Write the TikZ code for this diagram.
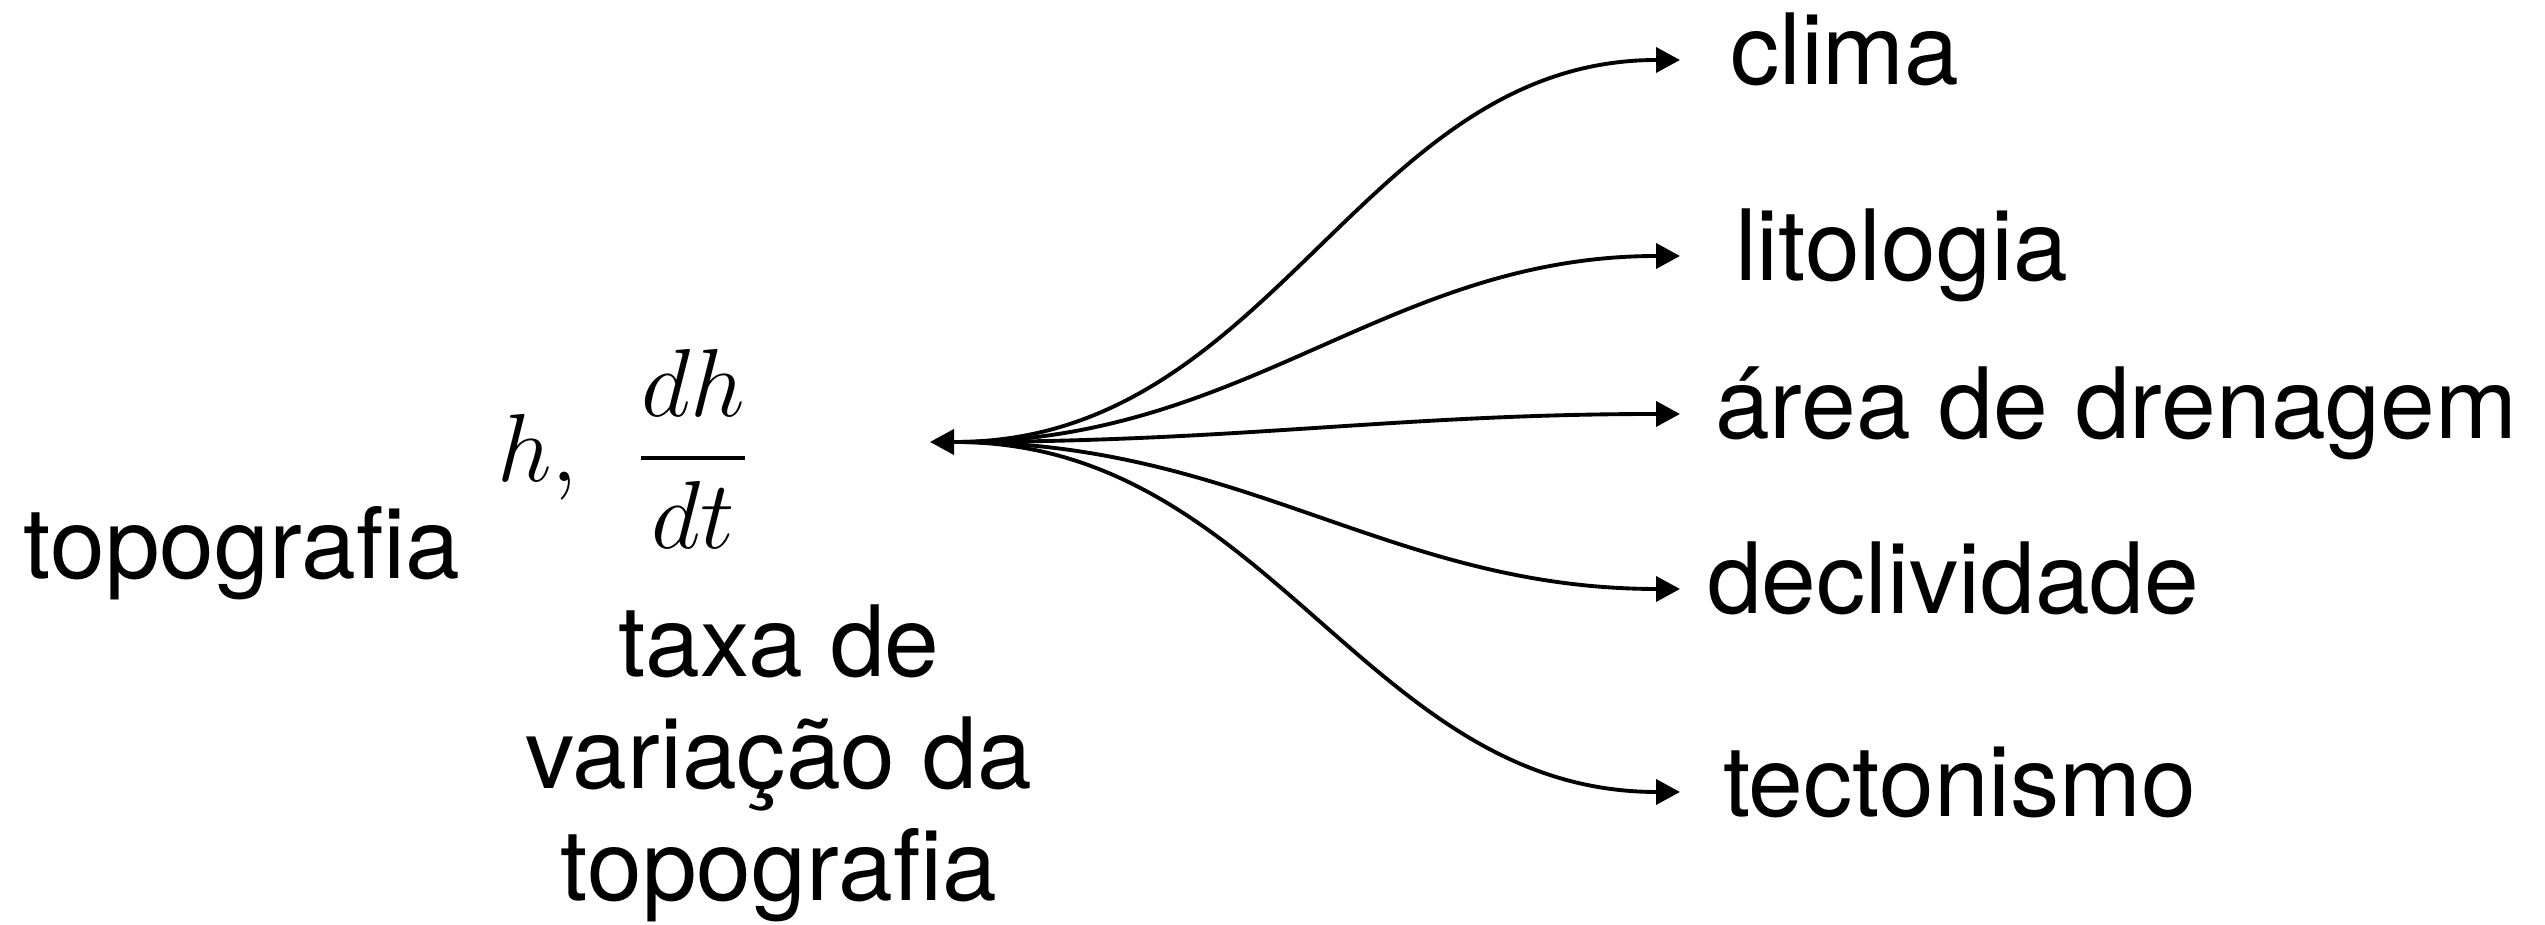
\RequirePackage{fix-cm}
\documentclass[tikz,border=0pt]{standalone}
\usepackage{amsmath}
\usepackage{fontspec}
\setmainfont{TeX Gyre Heros}
\usetikzlibrary{arrows.meta}

\begin{document}
\begin{tikzpicture}[
  every node/.style={font=\fontsize{28}{32}\selectfont, inner sep=0pt, outer sep=0pt},
  fator/.style={anchor=west, text height=0.55cm, text depth=0.05cm, inner xsep=0.45cm},
  liga/.style={line width=1.1pt, -{Triangle[length=0.24cm,width=0.25cm]}}]
  \useasboundingbox (0,0) rectangle (25.45,-9.25);
  % lado esquerdo
  \node[anchor=base west] (topo) at (0.24,-5.79) {topografia};
  \node[anchor=base west, font=\fontsize{27.5}{32}\selectfont] (eq) at (4.97,-4.82)
    {$h,\;\,\dfrac{dh}{dt}$};
  \node[anchor=base, align=center] (taxa) at (7.79,-9.01) {taxa de\\variação da\\topografia};
  % ponto central
  \coordinate (hub) at (9.55,-4.42);
  \coordinate (ponta) at (9.30,-4.42);
  \draw[liga] (hub) -- (ponta);
  % fatores
  \node[fator, inner xsep=0.50cm] (clima) at (16.8,-0.60) {clima};
  \node[fator, inner xsep=0.55cm] (lito) at (16.8,-2.56) {litologia};
  \node[fator, inner xsep=0.35cm] (area) at (16.8,-4.14) {área de drenagem};
  \node[fator, inner xsep=0.27cm] (decl) at (16.8,-5.89) {declividade};
  \node[fator, inner xsep=0.43cm] (tect) at (16.8,-7.92) {tectonismo};
  \foreach \f in {clima,lito,area,decl,tect}
    \draw[liga] (hub) to[out=0,in=180] (\f);
\end{tikzpicture}
\end{document}
